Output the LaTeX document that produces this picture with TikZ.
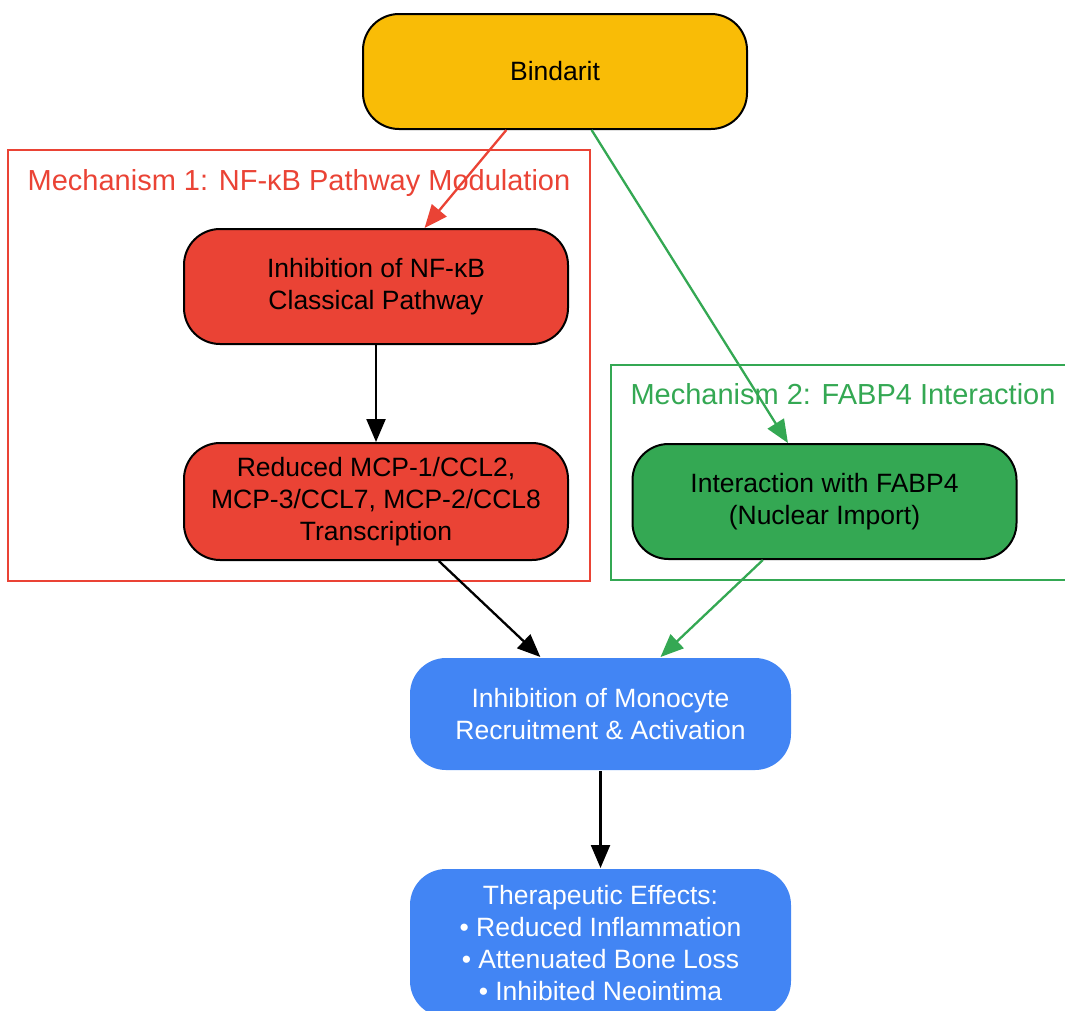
\documentclass[tikz,border=0pt]{standalone}
\usepackage{fontspec}
\setmainfont{Liberation Sans}
\usetikzlibrary{arrows.meta}
\definecolor{gyellow}{HTML}{F9BC06}
\definecolor{gred}{HTML}{EA4335}
\definecolor{ggreen}{HTML}{34A853}
\definecolor{gblue}{HTML}{4285F4}

\begin{document}
\begin{tikzpicture}[x=1pt,y=-1pt]
\tikzstyle{box}=[draw=black,line width=2pt,rounded corners=36pt,minimum width=384pt,minimum height=115pt,inner sep=0pt,align=center,font=\fontsize{26.5}{32}\selectfont]
\tikzstyle{outbox}=[box,draw=none,fill=gblue,text=white,minimum width=381pt]
\tikzstyle{cluster}=[line width=2pt]
\tikzstyle{clusterlabel}=[anchor=base,font=\fontsize{29}{34}\selectfont]
\tikzstyle{arr}=[line width=2.3pt,-{Triangle[length=23pt,width=19pt]}]

\useasboundingbox (0,0) rectangle (1065,1010);
\clip (0,0) rectangle (1065,1010);

% Mechanism 1
\draw[cluster,gred] (8,150) rectangle (590,581);
\node[clusterlabel,gred] (lab1) at (299,190) {Mechanism 1: NF-κB Pathway Modulation};

% Mechanism 2
\draw[cluster,ggreen] (611,365) rectangle (1080,580);
\node[clusterlabel,ggreen] (lab2) at (843,404) {Mechanism 2: FABP4 Interaction};

% Drug
\node[box,fill=gyellow] (bind) at (555,71.5) {Bindarit};

% Pathway
\node[box,fill=gred] (nfkb) at (376,286.5) {Inhibition of NF-κB\\Classical Pathway};
\node[box,fill=gred,minimum height=117pt] (mcp) at (376,501.5) {Reduced MCP-1/CCL2,\\MCP-3/CCL7, MCP-2/CCL8\\Transcription};
\node[box,fill=ggreen] (fabp) at (824.5,501.5) {Interaction with FABP4\\(Nuclear Import)};

% Outcome
\node[outbox,minimum height=112pt] (mono) at (600.5,714) {Inhibition of Monocyte\\Recruitment \& Activation};
\node[outbox,minimum height=148pt] (eff) at (600.5,943) {Therapeutic Effects:\\• Reduced Inflammation\\• Attenuated Bone Loss\\• Inhibited Neointima};

 \draw[arr,gred] (bind) -- (nfkb);
 \draw[arr,ggreen] (bind) -- (fabp);
 \draw[arr] (nfkb) -- (mcp);
 \draw[arr] (mcp) -- (mono);
 \draw[arr,ggreen] (fabp) -- (mono);
 \draw[arr] (mono) -- (eff);

\end{tikzpicture}
\end{document}
